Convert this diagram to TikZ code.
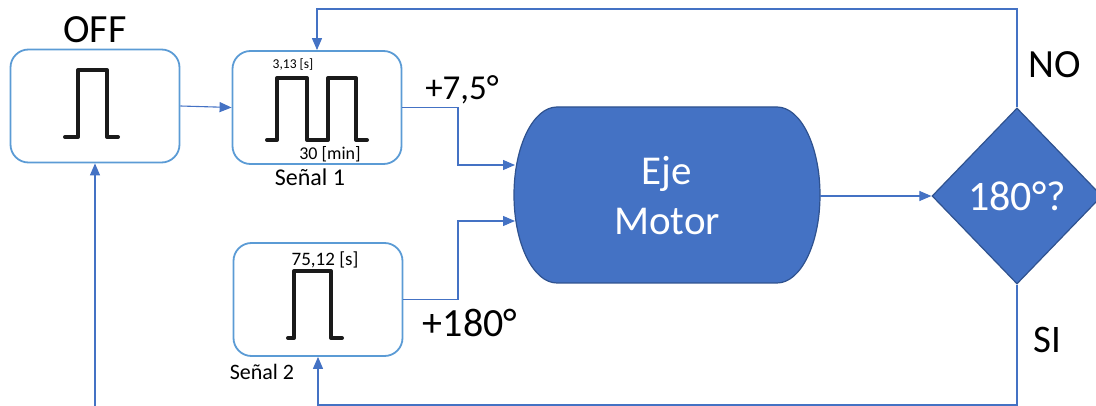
\documentclass[tikz,border=0pt]{standalone}
\usepackage{fontspec}
\setmainfont{Carlito}
\usetikzlibrary{arrows.meta,shapes.geometric}
\definecolor{boxblue}{HTML}{5B9BD5}
\definecolor{fillblue}{HTML}{4472C4}
\definecolor{darkblue}{HTML}{2F528F}
\definecolor{linecol}{HTML}{4472C4}
\definecolor{pulsecol}{HTML}{1A1A1A}
\tikzset{
  sigbox/.style={draw=boxblue, line width=1.8pt, rounded corners=18pt, minimum width=169pt, minimum height=113pt, inner sep=0pt},
  conn/.style={draw=linecol, line width=1.1pt},
  arr/.style={conn, -{Triangle[length=12pt,width=10pt]}},
  pulse/.style={draw=pulsecol, line width=4pt, line join=round, line cap=round},
  fs/.style={font=\fontsize{#1}{#1}\selectfont, inner sep=0pt}
}
\begin{document}
\begin{tikzpicture}[x=1pt,y=1pt]
\useasboundingbox (0,0) rectangle (1096,-406);
% boxes
\node[sigbox] (off) at (95,-106) {};
\node[sigbox] (s1) at (317,-107.5) {};
\node[sigbox] (s2) at (318,-299.5) {};
% pulses
\draw[pulse] (65,-137)--(78,-137)--(78,-70)--(107,-70)--(107,-137)--(118,-137);
\draw[pulse] (267,-140)--(277,-140)--(277,-78)--(307,-78)--(307,-140)--(328,-140)--(328,-78)--(356,-78)--(356,-140)--(367,-140);
\draw[pulse] (288,-338)--(294,-338)--(294,-271)--(331,-271)--(331,-338)--(342,-338);
% Eje Motor shape
\filldraw[fill=fillblue, draw=darkblue, line width=1.2pt] (557,-107) -- (777,-107) arc[start angle=90, end angle=-90, x radius=43, y radius=88] -- (557,-283) arc[start angle=270, end angle=90, x radius=43, y radius=88] -- cycle;
\node[text=white, align=center, inner sep=0pt, minimum width=306pt, minimum height=176pt, font=\fontsize{41}{50}\selectfont] (eje) at (667,-196) {Eje\\Motor};
% diamond
\node[diamond, fill=fillblue, draw=darkblue, line width=1.2pt, minimum width=170pt, minimum height=176pt, inner sep=0pt, text=white, font=\fontsize{42}{42}\selectfont] (d) at (1017,-196) {180°?};
% labels
\node[fs=40] (offlbl) at (95,-30) {OFF};
\node[fs=13.5] (s1top) at (293,-65) {3,13 [s]};
\node[fs=18] (s1bot) at (330,-154) {30 [min]};
\node[fs=24] (s1lbl) at (310,-177) {Señal 1};
\node[fs=19] (s2top) at (325,-260) {75,12 [s]};
\node[fs=22] (s2lbl) at (262,-372) {Señal 2};
\node[fs=35] (a75) at (462,-90) {+7,5°};
\node[fs=40] (a180) at (470,-323) {+180°};
\node[fs=40] (no) at (1055,-65) {NO};
\node[fs=39] (si) at (1047,-340) {SI};
% coordinates
\coordinate (j1) at (458,-165);
\coordinate (e1) at (515,-165);
\coordinate (j2) at (458,-221);
\coordinate (e2) at (515,-221);
\coordinate (t1) at (1017,-9);
\coordinate (b1) at (1017,-405);
\coordinate (o1) at (95,-406);
% connectors
\draw[arr] (off.east) -- (s1.west);
\draw[arr] (s1.east) -| (j1) -- (e1);
\draw[arr] (s2.east) -| (j2) -- (e2);
\draw[arr] (eje.east) -- (d.west);
\draw[arr] (d.north) -- (t1) -| (s1.north);
\draw[arr] (d.south) -- (b1) -| (s2.south);
\draw[arr] (o1) -- (off.south);
\end{tikzpicture}
\end{document}
